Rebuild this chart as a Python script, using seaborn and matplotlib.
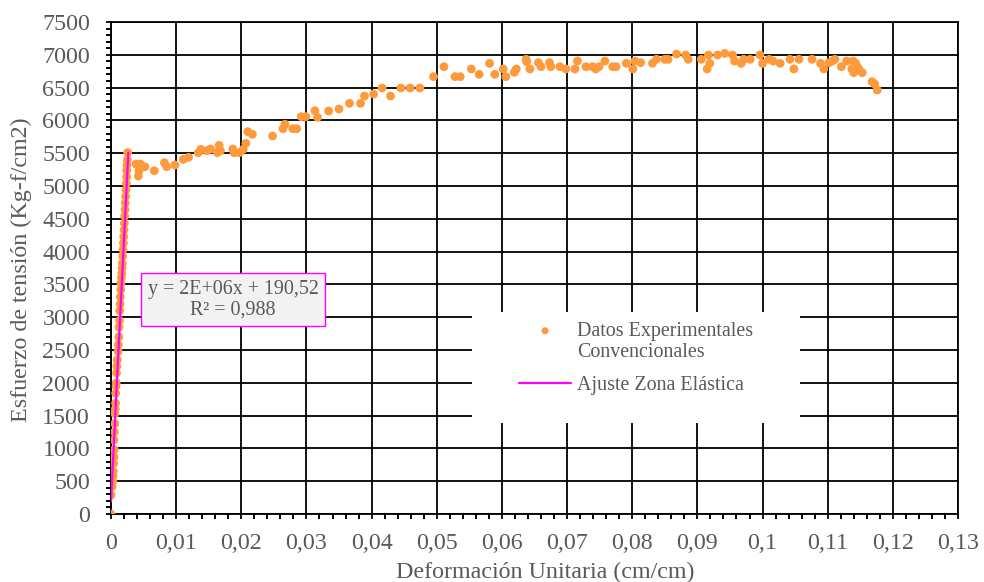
import matplotlib
matplotlib.use("Agg")
import matplotlib.pyplot as plt
import pandas as pd
import seaborn as sns
from matplotlib.patches import Rectangle
from matplotlib.ticker import MultipleLocator

# Conventional tensile test readings: unit strain (cm/cm) and stress (kg-f/cm2)
strain_elastic = [
    0.0, 0.0, 0.00018, 0.00026, 0.0003, 0.00036, 0.0004, 0.00046, 0.0005,
    0.00046, 0.00052, 0.00058, 0.0006, 0.00066, 0.0007, 0.00072, 0.00078,
    0.0008, 0.00085, 0.0009, 0.00095, 0.0011, 0.00112, 0.0012, 0.00123,
    0.0013, 0.00133, 0.0014, 0.00143, 0.0015, 0.00153, 0.0016, 0.00164,
    0.0017, 0.00174, 0.0018, 0.00184, 0.0019, 0.00195, 0.002, 0.00205,
    0.0021, 0.00215, 0.0022, 0.00225, 0.0023, 0.00236, 0.0024, 0.00241,
    0.00246, 0.00251, 0.00256,
]
stress_elastic = [
    0, 290, 420, 500, 580, 650, 770, 870, 980,
    1130, 1250, 1380, 1530, 1600, 1690, 1840, 1950,
    2000, 2150, 2250, 2350, 2480, 2580, 2700, 2850,
    2950, 3100, 3200, 3310, 3420, 3520, 3600, 3670,
    3750, 3820, 3930, 4030, 4130, 4230, 4330, 4430,
    4540, 4640, 4740, 4840, 4940, 5040, 5140, 5240,
    5320, 5400, 5510,
]
strain_plastic = [
    0.00384, 0.0045, 0.0052, 0.0042, 0.0043, 0.00665, 0.0082, 0.00855,
    0.0098, 0.0111, 0.0119, 0.0134, 0.0138, 0.0147, 0.0153, 0.0163,
    0.0166, 0.0168, 0.0187, 0.0189, 0.0197, 0.0203, 0.0207, 0.021,
    0.0217, 0.0248, 0.0264, 0.0267, 0.0279, 0.0285, 0.0292, 0.0299,
    0.0313, 0.0317, 0.0334, 0.035, 0.0366, 0.0383, 0.0389, 0.0403,
    0.0416, 0.0429, 0.0445, 0.0459, 0.0474, 0.0495, 0.0511, 0.0528,
    0.0536, 0.0553, 0.0565, 0.0581, 0.0589, 0.0602, 0.0606, 0.0619,
    0.0622, 0.0637, 0.0638, 0.0643, 0.0656, 0.066, 0.0673, 0.0675,
    0.0689, 0.0698, 0.0712, 0.0716, 0.0729, 0.0739, 0.0744, 0.0749,
    0.0758, 0.077, 0.0775, 0.0791, 0.0801, 0.0804, 0.0813, 0.0831,
    0.0837, 0.085, 0.0855, 0.0868, 0.0882, 0.0886, 0.0906, 0.0915,
    0.0917, 0.0919, 0.0931, 0.0942, 0.0954, 0.0957, 0.0967, 0.0971,
    0.0981, 0.0996, 0.1, 0.101, 0.1016, 0.1027, 0.1042, 0.1048,
    0.1056, 0.1076, 0.1089, 0.1094, 0.1102, 0.1107, 0.1111, 0.1121,
    0.1129, 0.1137, 0.1139, 0.114, 0.1143, 0.1145, 0.1148, 0.1153,
    0.1168, 0.1172, 0.1176,
]
stress_plastic = [
    5335, 5335, 5294, 5152, 5233, 5233, 5355, 5294,
    5320, 5407, 5437, 5508, 5559, 5538, 5564, 5508,
    5620, 5538, 5564, 5508, 5508, 5559, 5651, 5828,
    5788, 5762, 5874, 5940, 5874, 5874, 6057, 6057,
    6148, 6047, 6143, 6174, 6260, 6260, 6372, 6402,
    6494, 6372, 6494, 6494, 6494, 6667, 6819, 6667,
    6667, 6784, 6702, 6870, 6702, 6784, 6667, 6733,
    6784, 6931, 6895, 6784, 6880, 6819, 6880, 6819,
    6819, 6784, 6784, 6905, 6819, 6819, 6784, 6819,
    6905, 6819, 6819, 6870, 6784, 6905, 6880, 6870,
    6931, 6931, 6931, 7012, 6997, 6931, 6931, 6784,
    6997, 6870, 6997, 7022, 6997, 6905, 6870, 6931,
    6931, 6997, 6870, 6931, 6905, 6870, 6931, 6784,
    6931, 6931, 6870, 6784, 6880, 6905, 6931, 6819,
    6905, 6784, 6905, 6728, 6870, 6819, 6784, 6728,
    6590, 6555, 6463,
]

# Linear fit of the elastic zone, as stated on the chart
fit_slope = 2e6
fit_intercept = 190.52
fit_r2 = 0.988
fit_strain = [0.0, 0.00266]

x_ticks = [0, 0.01, 0.02, 0.03, 0.04, 0.05, 0.06, 0.07, 0.08, 0.09, 0.1,
           0.11, 0.12, 0.13]
x_tick_labels = ["0", "0,01", "0,02", "0,03", "0,04", "0,05", "0,06", "0,07",
                 "0,08", "0,09", "0,1", "0,11", "0,12", "0,13"]
y_ticks = [0, 500, 1000, 1500, 2000, 2500, 3000, 3500, 4000, 4500, 5000,
           5500, 6000, 6500, 7000, 7500]

ORANGE = "#FF9A3C"
MAGENTA = "#FF00FF"
GREY = "#595959"
AXIS_FS = 17.3
NOTE_FS = 14.4

sns.set_theme(style="white")
plt.rcParams["font.family"] = ["Liberation Serif", "DejaVu Serif"]
plt.rcParams["axes.unicode_minus"] = False

fig = plt.figure(figsize=(9.84, 5.82), dpi=100)
ax = fig.add_axes([0.1128, 0.1168, 0.8608, 0.8454])

data = pd.DataFrame({
    "strain": strain_elastic + strain_plastic,
    "stress": stress_elastic + stress_plastic,
})
fit = pd.DataFrame({
    "strain": fit_strain,
    "stress": [fit_slope * s + fit_intercept for s in fit_strain],
})

sns.scatterplot(data=data, x="strain", y="stress", ax=ax, color=ORANGE,
                s=40, edgecolor="none", linewidth=0, zorder=3, legend=False)
sns.lineplot(data=fit, x="strain", y="stress", ax=ax, color=MAGENTA,
             linewidth=1.6, zorder=4, legend=False)

ax.set_xlim(0, 0.13)
ax.set_ylim(0, 7500)
ax.set_xticks(x_ticks)
ax.set_xticklabels(x_tick_labels)
ax.set_yticks(y_ticks)
ax.xaxis.set_minor_locator(MultipleLocator(0.002))
ax.yaxis.set_minor_locator(MultipleLocator(100))

ax.grid(True, which="major", color="black", linewidth=1.3)
ax.set_axisbelow(True)
for sp in ax.spines.values():
    sp.set_color("black")
    sp.set_linewidth(1.3)

ax.tick_params(axis="both", which="both", direction="out", colors="black",
               labelcolor=GREY, labelsize=AXIS_FS, bottom=True, left=True)
ax.tick_params(axis="both", which="major", length=3.6, width=1.3)
ax.tick_params(axis="both", which="minor", length=3.6, width=1.4)
ax.tick_params(axis="x", which="major", pad=10)
ax.tick_params(axis="y", which="major", pad=11.5)
ax.set_xlabel("")
ax.set_ylabel("")

fig.text(545 / 984, 1 - 572 / 582, "Deformación Unitaria (cm/cm)",
         ha="center", va="center", fontsize=AXIS_FS, color=GREY)
fig.text(21 / 984, 1 - 270 / 582, "Esfuerzo de tensión (Kg-f/cm2)",
         ha="center", va="center", rotation=90, fontsize=AXIS_FS, color=GREY)

# Equation box of the elastic fit
eq_text = "y = {:.0E}x + {}\nR² = {}".format(
    fit_slope, f"{fit_intercept:.2f}".replace(".", ","),
    f"{fit_r2:.3f}".replace(".", ","))
ax.text(0.01873, 3270, eq_text, ha="center", va="center",
        multialignment="center", fontsize=NOTE_FS, color=GREY, zorder=5,
        linespacing=1.12,
        bbox=dict(boxstyle="square,pad=0.33", facecolor="#F2F2F2",
                  edgecolor=MAGENTA, linewidth=1))

# White panel behind the legend
ax.add_patch(Rectangle((0.426, 0.185), 0.387, 0.226, transform=ax.transAxes,
                       facecolor="white", edgecolor="none", zorder=1))

pts = ax.collections[0]
line = ax.lines[0]
leg = ax.legend([pts, line],
                ["Datos Experimentales\nConvencionales", "Ajuste Zona Elástica"],
                loc="upper left", bbox_to_anchor=(0.4817, 0.3902),
                frameon=False, borderpad=0, borderaxespad=0,
                handlelength=2.6, handletextpad=0.3, labelspacing=0.7,
                fontsize=NOTE_FS, labelcolor=GREY, markerscale=0.8)
for t in leg.get_texts():
    t.set_linespacing(1.16)
# keep the marker level with the first line of its two-line label
first_item = leg._legend_handle_box.get_children()[0].get_children()[0]
first_item.align = "top"
leg.set_zorder(6)

fig.savefig("out.png", dpi=100)
